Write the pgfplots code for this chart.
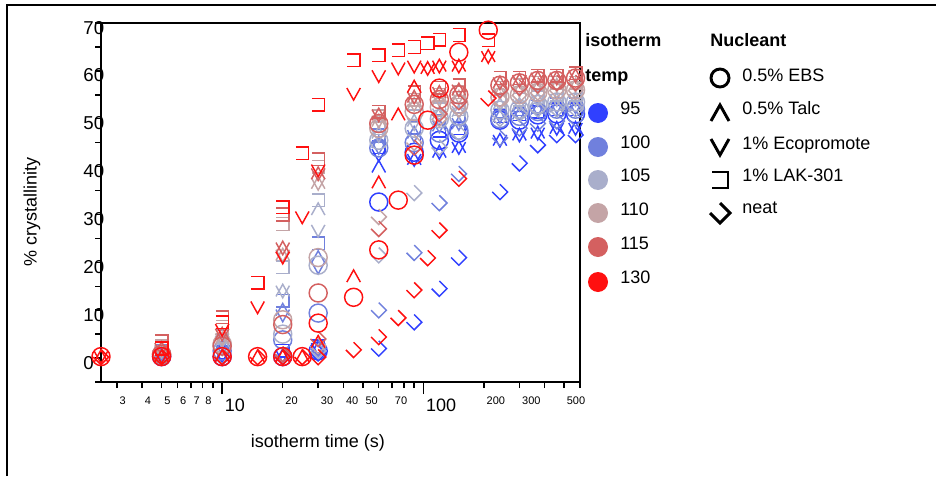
\documentclass[border=0pt]{standalone}
\usepackage{pgfplots}
\pgfplotsset{compat=1.18}
\usepackage{fontspec}
\setmainfont{Liberation Sans}

\definecolor{c95}{RGB}{48,64,255}
\definecolor{c100}{RGB}{112,128,221}
\definecolor{c105}{RGB}{169,174,203}
\definecolor{c110}{RGB}{196,164,166}
\definecolor{c115}{RGB}{212,96,96}
\definecolor{c130}{RGB}{255,16,16}

\pgfdeclareplotmark{caretup}{%
  \pgfpathmoveto{\pgfqpoint{-0.75\pgfplotmarksize}{-0.6\pgfplotmarksize}}%
  \pgfpathlineto{\pgfqpoint{0pt}{0.75\pgfplotmarksize}}%
  \pgfpathlineto{\pgfqpoint{0.75\pgfplotmarksize}{-0.6\pgfplotmarksize}}%
  \pgfusepathqstroke}
\pgfdeclareplotmark{caretdown}{%
  \pgfpathmoveto{\pgfqpoint{-0.75\pgfplotmarksize}{0.6\pgfplotmarksize}}%
  \pgfpathlineto{\pgfqpoint{0pt}{-0.75\pgfplotmarksize}}%
  \pgfpathlineto{\pgfqpoint{0.75\pgfplotmarksize}{0.6\pgfplotmarksize}}%
  \pgfusepathqstroke}
\pgfdeclareplotmark{lak}{%
  \pgfpathmoveto{\pgfqpoint{-0.7\pgfplotmarksize}{0.7\pgfplotmarksize}}%
  \pgfpathlineto{\pgfqpoint{0.7\pgfplotmarksize}{0.7\pgfplotmarksize}}%
  \pgfpathlineto{\pgfqpoint{0.7\pgfplotmarksize}{-0.7\pgfplotmarksize}}%
  \pgfpathlineto{\pgfqpoint{-0.7\pgfplotmarksize}{-0.7\pgfplotmarksize}}%
  \pgfusepathqstroke}
\pgfdeclareplotmark{neat}{%
  \pgfpathmoveto{\pgfqpoint{0pt}{0.85\pgfplotmarksize}}%
  \pgfpathlineto{\pgfqpoint{0.85\pgfplotmarksize}{0pt}}%
  \pgfpathlineto{\pgfqpoint{0pt}{-0.85\pgfplotmarksize}}%
  \pgfpathlineto{\pgfqpoint{-0.85\pgfplotmarksize}{0pt}}%
  \pgfusepathqstroke}

\pgfplotsset{
  ebs/.style={mark=o},
  talc/.style={mark=caretup},
  eco/.style={mark=caretdown},
  lak/.style={mark=lak},
  neat/.style={mark=neat},
}

\begin{document}
\begin{tikzpicture}
\path[use as bounding box] (-75.75pt,-70.5pt) rectangle (626.25pt,286.5pt);

\begin{axis}[
  scale only axis, width=359.25pt, height=269.25pt,
  xmode=log, xmin=2.5, xmax=600, ymin=-5, ymax=70,
  axis line style={line width=1.5pt},
  tick pos=left, tick align=outside,
  xtick={3,4,5,6,7,8,20,30,40,50,70,200,300,500},
  xticklabels={3,4,5,6,7,8,20,30,40,50,70,200,300,500},
  minor xtick={9,60,80,90,400,600},
  extra x ticks={10,100}, extra x tick labels={10,100},
  extra x tick style={major tick length=9pt, xticklabel style={font=\fontsize{13.5}{16}\selectfont, yshift=2.5pt}},
  xticklabel style={font=\fontsize{8.25}{10}\selectfont, anchor=north west, xshift=-1.5pt, yshift=-3pt},
  ytick={0,10,20,30,40,50,60,70}, minor ytick={-5,5,15,25,35,45,55,65},
  major tick length=4.5pt, minor tick length=4.5pt,
  tick style={line width=1.1pt, black},
  yticklabel style={font=\fontsize{14}{16}\selectfont, anchor=west, xshift=-12.2pt, yshift=-3.5pt},
  /pgf/number format/assume math mode=true,
  xlabel={isotherm time (s)}, ylabel={\% crystallinity},
  label style={font=\fontsize{13.5}{16}\selectfont},
  xlabel style={at={(rel axis cs:0.453,-0.170)}, anchor=center},
  ylabel style={at={(rel axis cs:-0.144,0.474)}, anchor=center},
  every axis plot/.append style={only marks, mark size=6.75pt, line width=1.1pt},
]
% ---------------- 95 C
\addplot[ebs, c95] coordinates {(5,0.3)(10,0.3)(20,0.3)(30,1.5)(60,32.6)(90,43)(120,45.5)(150,47)(240,49.7)(300,49.7)(370,50.8)(460,51)(570,51)};
\addplot[talc, c95] coordinates {(5,0.3)(10,0.5)(20,0.5)(30,2)(60,39.9)(90,41.5)(120,43)(150,44)(240,45.5)(300,46.6)(370,47)(460,48)(570,48)};
\addplot[eco, c95] coordinates {(5,0.3)(10,0.5)(20,0.5)(30,2)(60,42.5)(90,41.5)(120,43)(150,44)(240,45.5)(300,46.6)(370,47)(460,48)(570,48)};
\addplot[lak, c95] coordinates {(5,0.8)(10,1.2)(20,1.5)(30,2.5)(60,44)(90,45.5)(120,47.5)(150,48)(240,50.5)(300,51)(370,51.5)(460,52)(570,52)};
\addplot[neat, c95] coordinates {(5,0.2)(10,0.2)(20,0.3)(30,1)(60,2)(90,7.5)(120,14.5)(150,21)(240,34.7)(300,40.7)(370,44.5)(460,46.6)(570,46.6)};
% ---------------- 100 C
\addplot[ebs, c100] coordinates {(5,0.5)(10,1.5)(20,3.8)(30,9.4)(60,43.9)(90,45)(120,47)(150,47.6)(240,50)(300,50.5)(370,51.5)(460,52)(570,52)};
\addplot[talc, c100] coordinates {(5,0.8)(10,2.5)(20,10)(30,21)(60,45)(90,47)(120,48.5)(150,49)(240,50.5)(300,51)(370,52)(460,52.5)(570,52.5)};
\addplot[eco, c100] coordinates {(5,0.8)(10,2)(20,9)(30,19)(60,44)(90,46.5)(120,48.5)(150,49)(240,50.5)(300,51)(370,52)(460,52.5)(570,52.5)};
\addplot[lak, c100] coordinates {(5,1.5)(10,3.5)(20,12)(30,24)(60,46.5)(90,48)(120,49.5)(150,50)(240,51.5)(300,52)(370,52.5)(460,53)(570,53)};
\addplot[neat, c100] coordinates {(5,0.2)(10,0.3)(20,0.5)(30,2)(60,10)(90,22)(120,32.4)(150,38.5)(240,46)(300,48)(370,49)(460,49.5)(570,50)};
% ---------------- 105 C
\addplot[ebs, c105] coordinates {(5,0.8)(10,2.7)(20,5)(30,19.4)(60,45.5)(90,48)(120,50)(150,50.5)(240,51.8)(300,52)(370,53)(460,53.5)(570,53.5)};
\addplot[talc, c105] coordinates {(5,1.5)(10,3.5)(20,14)(30,31)(60,47)(90,49.5)(120,51)(150,51.5)(240,53)(300,53)(370,54)(460,54)(570,54)};
\addplot[eco, c105] coordinates {(5,1.5)(10,3.5)(20,14)(30,26.7)(60,46.5)(90,49)(120,51)(150,51.5)(240,53)(300,53)(370,54)(460,54)(570,54)};
\addplot[lak, c105] coordinates {(5,2)(10,4.5)(20,19)(30,33)(60,48)(90,50.5)(120,52)(150,52)(240,53.5)(300,54)(370,54.5)(460,55)(570,55)};
\addplot[neat, c105] coordinates {(5,0.2)(10,0.3)(20,0.8)(30,1.5)(60,21.5)(90,34.5)(120,44)(150,47)(240,50)(300,51)(370,52)(460,52)(570,52)};
% ---------------- 110 C
\addplot[ebs, c110] coordinates {(5,0.8)(10,3)(20,8)(30,21)(60,48)(90,51.5)(120,52.4)(150,53)(240,54.5)(300,55)(370,55.5)(460,56)(570,56)};
\addplot[talc, c110] coordinates {(5,1.5)(10,4)(20,21.5)(30,36.5)(60,49.5)(90,53)(120,54)(150,54.5)(240,55.5)(300,56)(370,56.5)(460,57)(570,57)};
\addplot[eco, c110] coordinates {(5,1.5)(10,4)(20,21.5)(30,36.5)(60,49.5)(90,53)(120,54)(150,54.5)(240,55.5)(300,56)(370,56.5)(460,57)(570,57)};
\addplot[lak, c110] coordinates {(5,2.5)(10,6.5)(20,28)(30,40)(60,50.5)(90,54)(120,55)(150,55.5)(240,56.5)(300,57)(370,57.5)(460,57.5)(570,57.5)};
\addplot[neat, c110] coordinates {(5,0.2)(10,0.3)(20,0.8)(30,2.5)(60,29.5)(90,45)(120,50)(150,52)(240,54)(300,55)(370,55.5)(460,56)(570,56)};
% ---------------- 115 C
\addplot[ebs, c115] coordinates {(5,0.8)(10,2.5)(20,7)(30,13.6)(60,49)(90,53)(120,54)(150,55)(240,57)(300,57.5)(370,58)(460,58)(570,58.5)};
\addplot[talc, c115] coordinates {(5,2)(10,5)(20,23)(30,38.5)(60,50.8)(90,54.5)(120,55.5)(150,56)(240,57.5)(300,58)(370,58.5)(460,58.5)(570,59)};
\addplot[eco, c115] coordinates {(5,2)(10,5)(20,23)(30,38.5)(60,50.8)(90,54.5)(120,55.5)(150,56)(240,57.5)(300,58)(370,58.5)(460,58.5)(570,59)};
\addplot[lak, c115] coordinates {(5,3.5)(10,8.5)(20,30)(30,41.5)(60,51.5)(90,55.5)(120,56.5)(150,57)(240,58.5)(300,58.5)(370,59)(460,59)(570,59.5)};
\addplot[neat, c115] coordinates {(5,0.2)(10,0.3)(20,0.8)(30,4)(60,27)(90,44)(120,51)(150,53.5)(240,56)(300,56.5)(370,57)(460,57.5)(570,57.5)};
% ---------------- 130 C
\addplot[ebs, c130] coordinates {(2.5,0.3)(5,0.3)(10,0.3)(15,0.3)(20,0.3)(25,0.3)(30,7.3)(45,12.7)(60,22.6)(75,33)(90,42.4)(105,49.7)(120,56.4)(150,63.9)(210,68.5)};
\addplot[talc, c130] coordinates {(2.5,0.3)(5,0.3)(10,0.3)(15,0.3)(20,0.3)(25,0.3)(30,3.3)(45,17)(60,36.6)(75,50.8)(90,56.6)(105,60.5)(120,61)(150,61)(210,63)};
\addplot[eco, c130] coordinates {(2.5,0.3)(5,0.3)(10,6)(15,10.7)(20,21.1)(25,29.5)(30,39.3)(45,55.3)(60,59)(75,60.6)(90,61)(105,60.5)(120,61)(150,61)(210,63)};
\addplot[lak, c130] coordinates {(5,2)(10,7.5)(15,15.7)(20,31.5)(25,42.8)(30,52.9)(45,62.2)(60,63.3)(75,64.3)(90,65)(105,65.8)(120,66.5)(150,67.5)(210,66.4)};
\addplot[neat, c130] coordinates {(2.5,0.2)(5,0.2)(10,0.2)(15,0.2)(20,0.2)(25,0.2)(30,0.2)(45,1.7)(60,4.4)(75,8.4)(90,14.2)(105,20.9)(120,26.7)(150,37.5)(210,54.3)};
\end{axis}

\begin{scope}[x=0.75pt,y=-0.75pt,shift={(-101,-382)}]
\draw[line width=1.5pt] (7,476) -- (7,5) -- (936,5);
\tikzset{lt/.style={font=\fontsize{13.5}{16}\selectfont, anchor=west, inner sep=0pt},
         lb/.style={font=\fontsize{13.5}{16}\selectfont\bfseries, anchor=west, inner sep=0pt}}
\node[lb] at (585,40) {isotherm};
\node[lb] at (585,77) {temp};
\fill[c95]  (598,113) circle[radius=7.5pt];
\fill[c100] (598,147) circle[radius=7.5pt];
\fill[c105] (598,180) circle[radius=7.5pt];
\fill[c110] (598,213) circle[radius=7.5pt];
\fill[c115] (598,247) circle[radius=7.5pt];
\fill[c130] (598,282) circle[radius=7.5pt];
\node[lt] at (620,108) {95};
\node[lt] at (620,142) {100};
\node[lt] at (620,175) {105};
\node[lt] at (620,209) {110};
\node[lt] at (620,243) {115};
\node[lt] at (620,277) {130};
\node[lb] at (710,40) {Nucleant};
\draw[line width=2.2pt] (720,78) circle[radius=6.75pt];
\draw[line width=2.2pt] (711,121) -- (720,105) -- (729,121);
\draw[line width=2.2pt] (711,139) -- (720,155) -- (729,139);
\draw[line width=2.2pt] (712,172) -- (728,172) -- (728,188) -- (712,188);
\draw[line width=2.2pt] (720,203) -- (730,213) -- (720,223) -- (710,213);
\node[lt] at (742,75) {0.5\% EBS};
\node[lt] at (742,108) {0.5\% Talc};
\node[lt] at (742,145) {1\% Ecopromote};
\node[lt] at (742,175) {1\% LAK-301};
\node[lt] at (742,208) {neat};
\end{scope}
\end{tikzpicture}
\end{document}
